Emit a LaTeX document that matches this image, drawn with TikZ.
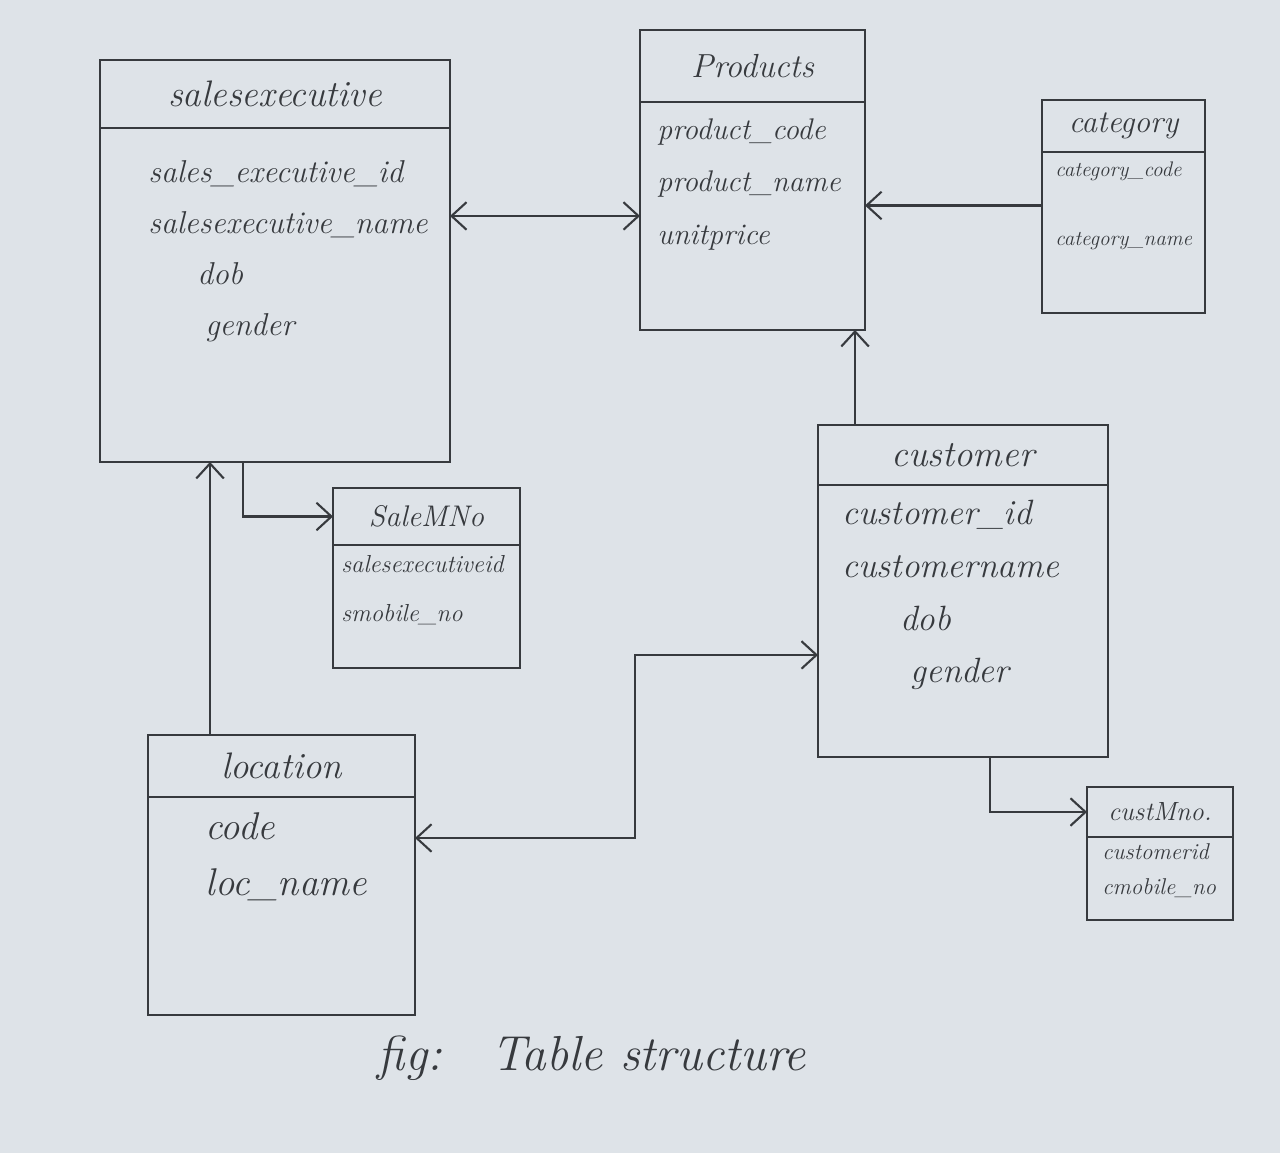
\documentclass[tikz,border=0pt]{standalone}
\usepackage{tikz}
\usetikzlibrary{arrows.meta, positioning}

\definecolor{paper}{RGB}{222,227,232}
\definecolor{ink}{RGB}{55,58,62}

\begin{document}
\begin{tikzpicture}[
        x=0.02cm, y=-0.02cm,
        >={Straight Barb[length=3mm, width=5.5mm]},
        tblhead/.style={rectangle, draw=ink, line width=1.2pt, outer sep=0pt, align=center, text=ink},
        tblbody/.style={rectangle, draw=ink, line width=1.2pt, outer sep=0pt},
        attrs/.style={align=left, inner sep=0pt, text=ink},
        link/.style={draw=ink, line width=1.2pt},
        ]

        % Paper
        \fill[paper] (0,0) rectangle (1280,1153);
        \useasboundingbox (0,0) rectangle (1280,1153);

        % Table headers
        \node[tblhead, minimum width=7cm, minimum height=1.36cm, font=\fontsize{21}{24}\selectfont\itshape] (seh) at (275,94) {salesexecutive};
        \node[tblhead, minimum width=4.5cm, minimum height=1.44cm, font=\fontsize{19}{22}\selectfont\itshape] (ph) at (752.5,66) {Products};
        \node[tblhead, minimum width=3.26cm, minimum height=1.04cm, font=\fontsize{18}{21}\selectfont\itshape] (cath) at (1123.5,126) {category};
        \node[tblhead, minimum width=3.74cm, minimum height=1.14cm, font=\fontsize{17}{20}\selectfont\itshape] (smh) at (426.5,516.5) {SaleMNo};
        \node[tblhead, minimum width=5.8cm, minimum height=1.2cm, font=\fontsize{21}{24}\selectfont\itshape] (ch) at (963,455) {customer};
        \node[tblhead, minimum width=2.92cm, minimum height=1.0cm, font=\fontsize{15}{18}\selectfont\itshape] (cmh) at (1160,812) {custMno.};
        \node[tblhead, minimum width=5.34cm, minimum height=1.24cm, font=\fontsize{21}{24}\selectfont\itshape] (lh) at (281.5,766) {location};

        % Table bodies
        \node[tblbody, below=0pt of seh, minimum width=7cm, minimum height=6.68cm] (seb) {};
        \node[tblbody, below=0pt of ph, minimum width=4.5cm, minimum height=4.56cm] (pb) {};
        \node[tblbody, below=0pt of cath, minimum width=3.26cm, minimum height=3.22cm] (catb) {};
        \node[tblbody, below=0pt of smh, minimum width=3.74cm, minimum height=2.46cm] (smb) {};
        \node[tblbody, below=0pt of ch, minimum width=5.8cm, minimum height=5.44cm] (cb) {};
        \node[tblbody, below=0pt of cmh, minimum width=2.92cm, minimum height=1.66cm] (cmb) {};
        \node[tblbody, below=0pt of lh, minimum width=5.34cm, minimum height=4.36cm] (lb) {};

        % Attributes
        \node[attrs, below right=0.64cm and 0.96cm of seh.south west, font=\fontsize{18}{29}\selectfont\itshape] (seattr)
            {sales\_executive\_id\\salesexecutive\_name\\\hspace*{0.98cm}dob\\\hspace*{1.14cm}gender};
        \node[attrs, below right=0.32cm and 0.34cm of ph.south west, font=\fontsize{17}{30}\selectfont\itshape] (pattr)
            {product\_code\\product\_name\\unitprice};
        \node[attrs, below right=0.2cm and 0.26cm of cath.south west, font=\fontsize{12}{39}\selectfont\itshape] (catattr)
            {category\_code\\category\_name};
        \node[attrs, below right=0.2cm and 0.16cm of smh.south west, font=\fontsize{14}{28}\selectfont\itshape] (smattr)
            {salesexecutiveid\\smobile\_no};
        \node[attrs, below right=0.3cm and 0.48cm of ch.south west, font=\fontsize{20}{30}\selectfont\itshape] (cattr)
            {customer\_id\\customername\\\hspace*{1.16cm}dob\\\hspace*{1.36cm}gender};
        \node[attrs, below right=0.12cm and 0.3cm of cmh.south west, font=\fontsize{13}{20}\selectfont\itshape] (cmattr)
            {customerid\\cmobile\_no};
        \node[attrs, below right=0.3cm and 1.14cm of lh.south west, font=\fontsize{22}{32}\selectfont\itshape] (lattr)
            {code\\loc\_name};

        % Caption
        \node[text=ink, font=\fontsize{28}{32}\selectfont\itshape] (caption) at (592,1058) {fig:\quad Table structure};

        % Connectors
        \coordinate (bend) at (635,740);
        \draw[link, <->] (pb.west -| seb.east) -- (pb.west);
        \draw[link, ->] ([yshift=0.54cm]catb.west) -- ([yshift=0.54cm]catb.west -| pb.east);
        \draw[link, ->] ([xshift=-2.16cm]ch.north) -- ([xshift=-2.16cm]ch.north |- pb.south);
        \draw[link, ->] ([xshift=-0.64cm]seb.south) |- (smh.west);
        \draw[link, ->] ([xshift=-1.43cm]lh.north) -- ([xshift=-1.43cm]lh.north |- seb.south);
        \draw[link, <->] ([yshift=1.36cm]lb.east) -| (bend) |- ([yshift=-0.68cm]cb.west);
        \draw[link, ->] ([xshift=0.54cm]cb.south) |- (cmh.west);

    \end{tikzpicture}
\end{document}
